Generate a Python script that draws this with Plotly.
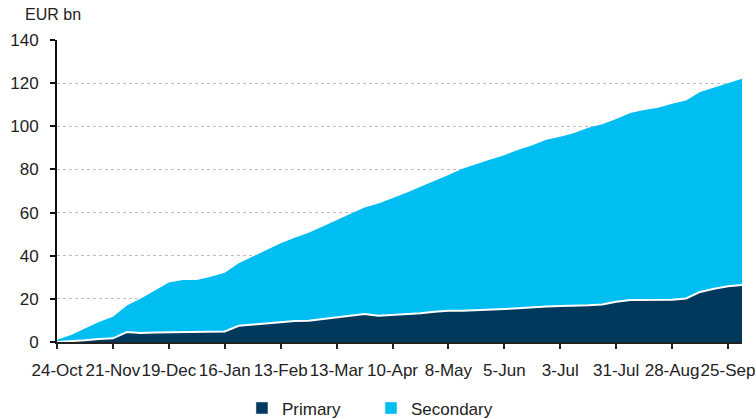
import plotly.graph_objects as go
import pandas as pd

dates = pd.date_range("2014-10-24", periods=50, freq="7D").strftime("%Y-%m-%d").tolist()

primary = [0.0, 0.3, 0.8, 1.4, 1.7, 4.6, 4.2, 4.4, 4.5, 4.6,
           4.7, 4.8, 4.9, 7.5, 8.0, 8.6, 9.3, 9.7, 9.9, 10.7,
           11.4, 12.2, 13.0, 12.2, 12.5, 12.7, 13.3, 14.0, 14.5, 14.5,
           14.7, 15.0, 15.3, 15.7, 16.2, 16.5, 16.7, 16.7, 17.0, 17.4,
           18.7, 19.5, 19.5, 19.5, 19.6, 20.2, 23.2, 24.7, 25.8, 26.4]

secondary = [1.0, 2.9, 5.5, 7.9, 10.0, 12.3, 16.0, 19.7, 23.1, 24.1,
             24.0, 25.5, 27.2, 29.0, 31.7, 34.0, 36.5, 38.6, 40.7, 42.8,
             45.1, 47.0, 49.3, 52.0, 54.1, 56.5, 58.7, 60.6, 62.9, 65.8,
             67.9, 69.6, 71.3, 73.4, 75.0, 77.3, 78.4, 80.2, 82.3, 83.6,
             84.7, 86.7, 88.0, 89.1, 90.9, 91.7, 92.7, 93.3, 94.2, 95.6]

tick_dates = ["2014-10-24", "2014-11-21", "2014-12-19", "2015-01-16", "2015-02-13",
              "2015-03-13", "2015-04-10", "2015-05-08", "2015-06-05", "2015-07-03",
              "2015-07-31", "2015-08-28", "2015-09-25"]
tick_labels = ["24-Oct", "21-Nov", "19-Dec", "16-Jan", "13-Feb", "13-Mar", "10-Apr",
               "8-May", "5-Jun", "3-Jul", "31-Jul", "28-Aug", "25-Sep"]

y_ticks = [0, 20, 40, 60, 80, 100, 120, 140]

PRIMARY_COLOR = "#00395C"
SECONDARY_COLOR = "#00BDF2"

fig = go.Figure()
fig.add_trace(go.Scatter(
    x=dates, y=primary, name="Primary", stackgroup="one", mode="lines",
    line=dict(color="white", width=2), fillcolor=PRIMARY_COLOR, showlegend=False,
))
fig.add_trace(go.Scatter(
    x=dates, y=secondary, name="Secondary", stackgroup="one", mode="lines",
    line=dict(color=SECONDARY_COLOR, width=0), fillcolor=SECONDARY_COLOR, showlegend=False,
))
# legend entries (square markers)
fig.add_trace(go.Bar(x=[None], y=[None], name="Primary", marker_color=PRIMARY_COLOR))
fig.add_trace(go.Bar(x=[None], y=[None], name="Secondary", marker_color=SECONDARY_COLOR))

font_family = "Liberation Sans, Arial, sans-serif"

fig.update_layout(
    width=756, height=419,
    margin=dict(l=57, r=14, t=40, b=77, autoexpand=False),
    paper_bgcolor="white", plot_bgcolor="white",
    font=dict(family=font_family, size=17, color="#222222"),
    showlegend=True,
    legend=dict(orientation="h", x=0.27, xanchor="left", y=-0.22, yanchor="middle",
                font=dict(size=17, color="#222222"), entrywidth=84, entrywidthmode="pixels",
                traceorder="normal", bgcolor="rgba(0,0,0,0)"),
    xaxis=dict(
        type="date", range=[dates[0], dates[-1]],
        tickmode="array", tickvals=tick_dates, ticktext=tick_labels, tickangle=0,
        showgrid=False, showline=True, linecolor="#222222", linewidth=2,
        ticks="outside", ticklen=5, tickwidth=2, tickcolor="#222222",
        tickfont=dict(size=17), zeroline=False, automargin=False,
        ticklabelstandoff=7,
    ),
    yaxis=dict(
        range=[0, 140], tickmode="array", tickvals=y_ticks,
        showgrid=True, gridcolor="#bdbdbd", griddash="dot", gridwidth=1,
        showline=True, linecolor="#111111", linewidth=2,
        ticks="outside", ticklen=5, tickwidth=2, tickcolor="#111111",
        tickfont=dict(size=17), zeroline=False, automargin=False,
        ticklabelstandoff=8,
    ),
    annotations=[dict(text="EUR bn", xref="paper", yref="paper", x=-0.05, y=1.05,
                      xanchor="left", yanchor="bottom", showarrow=False,
                      font=dict(size=16, color="#222222"))],
)

fig.write_html("out.html", config={"displayModeBar": False},
               post_script="document.body.style.margin='0';")
